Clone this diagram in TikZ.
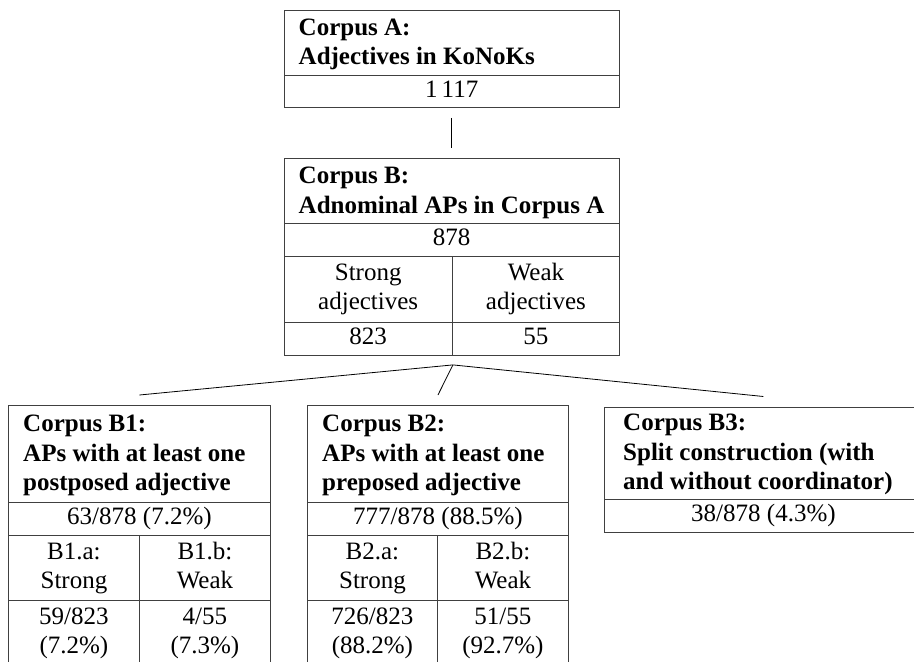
\documentclass[tikz,border=0pt]{standalone}
\usepackage{fontspec}
\setmainfont{Liberation Serif}
\begin{document}
\begin{tikzpicture}[x=1pt,y=-1pt,
  cell/.style={draw=black!75, line width=0.9pt, rectangle, inner sep=0pt, anchor=north west, align=center, font=\fontsize{25}{29}\selectfont},
  ttl/.style={anchor=west, inner sep=0pt, align=left, font=\fontsize{25}{29.5}\selectfont\bfseries},
  link/.style={draw=black, line width=0.8pt}]
\useasboundingbox (0,0) rectangle (914,662);
\clip (0,0) rectangle (914,662);
% Corpus A
\node[cell, minimum width=335.5pt, minimum height=65.5pt] (At) at (283.5,9.5) {};
\node[ttl] (Att) at ([xshift=15pt,yshift=-1.5pt]At.west) {\strut Corpus A:\\\strut Adjectives in KoNoKs};
\node[cell, minimum width=335.5pt, minimum height=32pt] (Ac) at (283.5,75) {\strut 1\,117};
% Corpus B
\node[cell, minimum width=335.5pt, minimum height=65pt] (Bt) at (283.5,158) {};
\node[ttl] (Btt) at ([xshift=15pt,yshift=-1.5pt]Bt.west) {\strut Corpus B:\\\strut Adnominal APs in Corpus A};
\node[cell, minimum width=335.5pt, minimum height=33pt] (Bc) at (283.5,223) {\strut 878};
\node[cell, minimum width=168.5pt, minimum height=66pt] (Bsl) at (283.5,256) {\strut Strong\\\strut adjectives};
\node[cell, minimum width=167pt, minimum height=66pt] (Bsr) at (452,256) {\strut Weak\\\strut adjectives};
\node[cell, minimum width=168.5pt, minimum height=33pt] (Bnl) at (283.5,322) {\strut 823};
\node[cell, minimum width=167pt, minimum height=33pt] (Bnr) at (452,322) {\strut 55};
% Corpus B1
\node[cell, minimum width=262pt, minimum height=97pt] (B1t) at (8,405) {};
\node[ttl] (B1tt) at ([xshift=15pt,yshift=-1.5pt]B1t.west) {\strut Corpus B1:\\\strut APs with at least one\\\strut postposed adjective};
\node[cell, minimum width=262pt, minimum height=33pt] (B1c) at (8,502) {\strut 63/878 (7.2\%)};
\node[cell, minimum width=131pt, minimum height=65pt] (B1as) at (8,535) {\strut B1.a:\\\strut Strong};
\node[cell, minimum width=131pt, minimum height=65pt] (B1bs) at (139,535) {\strut B1.b:\\\strut Weak};
\node[cell, minimum width=131pt, minimum height=65pt] (B1an) at (8,600) {\strut 59/823\\\strut (7.2\%)};
\node[cell, minimum width=131pt, minimum height=65pt] (B1bn) at (139,600) {\strut 4/55\\\strut (7.3\%)};
% Corpus B2
\node[cell, minimum width=261pt, minimum height=97pt] (B2t) at (307,405) {};
\node[ttl] (B2tt) at ([xshift=15pt,yshift=-1.5pt]B2t.west) {\strut Corpus B2:\\\strut APs with at least one\\\strut preposed adjective};
\node[cell, minimum width=261pt, minimum height=33pt] (B2c) at (307,502) {\strut 777/878 (88.5\%)};
\node[cell, minimum width=130pt, minimum height=65pt] (B2as) at (307,535) {\strut B2.a:\\\strut Strong};
\node[cell, minimum width=131pt, minimum height=65pt] (B2bs) at (437,535) {\strut B2.b:\\\strut Weak};
\node[cell, minimum width=130pt, minimum height=65pt] (B2an) at (307,600) {\strut 726/823\\\strut (88.2\%)};
\node[cell, minimum width=131pt, minimum height=65pt] (B2bn) at (437,600) {\strut 51/55\\\strut (92.7\%)};
% Corpus B3
\node[cell, minimum width=318pt, minimum height=92.5pt] (B3t) at (604,406.5) {};
\node[ttl] (B3tt) at ([xshift=19pt,yshift=-1pt]B3t.west) {\strut Corpus B3:\\\strut Split construction (with\\\strut and without coordinator)};
\node[cell, minimum width=318pt, minimum height=33pt] (B3c) at (604,499) {\strut 38/878 (4.3\%)};
% connectors
\draw[link] ([yshift=-10pt]Ac.south) -- ([yshift=10pt]Bt.north);
\coordinate (apex) at ([yshift=-9pt]Bnl.south east);
\draw[link] (apex) -- ([yshift=10pt]B1t.north);
\draw[link] (apex) -- ([yshift=10pt]B2t.north);
\draw[link] (apex) -- ([yshift=10pt]B3t.north);
\end{tikzpicture}
\end{document}
